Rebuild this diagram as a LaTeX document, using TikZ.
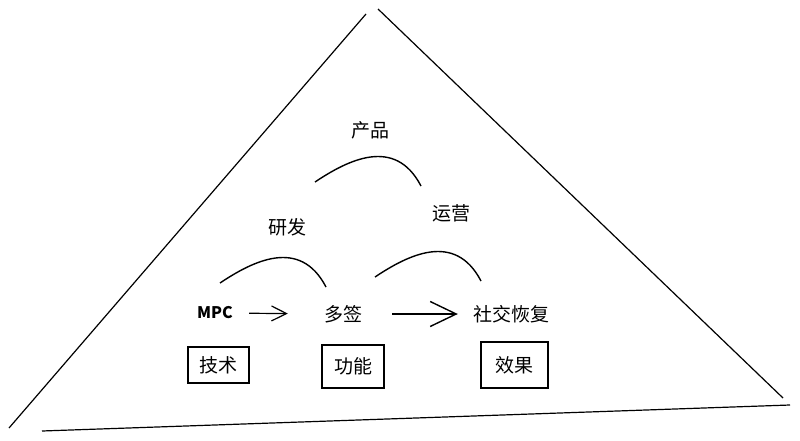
\documentclass[tikz,border=0pt]{standalone}
\usepackage{fontspec}
\setmainfont{Noto Sans CJK SC}
\usetikzlibrary{arrows.meta,positioning}
\tikzstyle{word}=[font=\fontsize{19}{22}\selectfont,inner sep=3pt]
\tikzstyle{mpcword}=[font=\fontsize{16}{18}\selectfont\bfseries,inner sep=3pt]
\tikzstyle{box}=[rectangle,draw=black,line width=1.5pt,
font=\fontsize{19}{22}\selectfont]
\tikzstyle{edge}=[line width=1.2pt]
\tikzstyle{hump}=[line width=1.4pt]
\tikzstyle{smallarrow}=[-{Straight Barb[length=15pt,width=15pt,line width=1.2pt]},line width=1.2pt]
\tikzstyle{bigarrow}=[-{Straight Barb[length=26pt,width=25pt,line width=1.4pt]},line width=1.4pt]

\begin{document}
\begin{tikzpicture}[x=1pt,y=-1pt]
            \useasboundingbox (0,0) rectangle (800,441);

            % PYRAMID PART

            \coordinate (topl) at (366,14);
            \coordinate (topr) at (378,9);
            \coordinate (botl) at (9,428);
            \coordinate (botr) at (783,398);
            \coordinate (basel) at (42,431);
            \coordinate (baser) at (790,405);

            \draw[edge] (topl) -- (botl);
            \draw[edge] (topr) -- (botr);
            \draw[edge] (basel) -- (baser);

            % LEVEL PART

            \node[word] (product) at (370,130) {产品};
            \node[word] (rd) at (287,227) {研发};
            \node[word] (ops) at (451,213) {运营};

            \draw[hump] (315,182) .. controls (348,160) and (395,136) .. (421,186);
            \draw[hump] (220,283) .. controls (253,261) and (300,237) .. (326,287);
            \draw[hump] (375,277) .. controls (408,255) and (455,231) .. (481,281);

            % FLOW PART

            \node[mpcword] (mpc) at (215,313) {MPC};
            \node[word] (multisig) at (343,314) {多签};
            \node[word] (social) at (511,314) {社交恢复};

            \path[smallarrow] (mpc) edge[shorten <=13pt,shorten >=33pt] (multisig);
            \path[bigarrow] (multisig) edge[shorten <=27pt,shorten >=12pt] (social);

            % BOX PART

            \node[box,minimum width=61pt,minimum height=36pt] (tech) at (218.5,365) {技术};
            \node[box,minimum width=62pt,minimum height=43pt] (func) at (353,366.5) {功能};
            \node[box,minimum width=67pt,minimum height=46pt] (effect) at (514.5,365) {效果};

\end{tikzpicture}
\end{document}
